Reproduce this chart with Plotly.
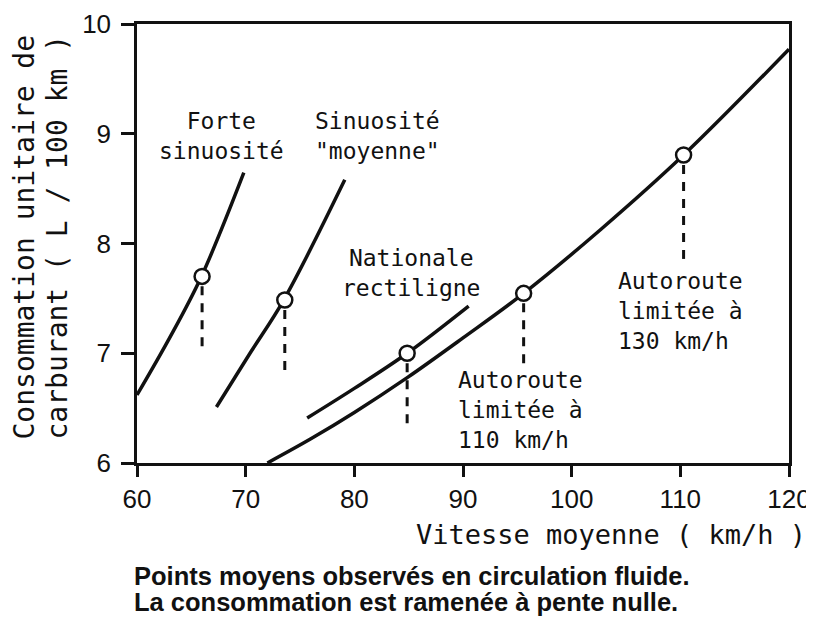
import plotly.graph_objects as go

# ---- data ----
forte_x = [60.0, 63.0, 65.93, 69.83]
forte_y = [6.62, 7.14, 7.70, 8.645]

moyenne_x = [67.31, 70.4, 73.5, 79.12]
moyenne_y = [6.51, 7.00, 7.485, 8.58]

nationale_x = [75.66, 80.0, 84.86, 90.52]
nationale_y = [6.41, 6.68, 7.00, 7.43]

autoroute_x = [72.0, 76.0, 80.0, 84.9, 90.0, 95.58, 102.7, 110.3, 120.0]
autoroute_y = [6.0, 6.22, 6.46, 6.78, 7.14, 7.546, 8.13, 8.806, 9.77]

# observed mean points and the bottom end of their dashed drop lines
point_x = [65.99, 73.6, 84.86, 95.58, 110.3]
point_y = [7.70, 7.485, 7.00, 7.546, 8.806]
drop_end_y = [7.05, 6.82, 6.30, 6.91, 7.83]

x_ticks = [60, 70, 80, 90, 100, 110, 120]
y_ticks = [6, 7, 8, 9, 10]

x_title = "Vitesse moyenne ( km/h )"
y_title_1 = "Consommation unitaire de"
y_title_2 = "carburant ( L / 100 km )"
footer_1 = "Points moyens observés en circulation fluide."
footer_2 = "La consommation est ramenée à pente nulle."

labels = ["Forte<br>sinuosité", "Sinuosité<br>\"moyenne\"", "Nationale<br>rectiligne",
          "Autoroute<br>limitée à<br>110 km/h", "Autoroute<br>limitée à<br>130 km/h"]

# ---- layout geometry (page has an 8px body margin) ----
OFF = 8
W, H = 806, 611
L, R, T, B = 129, 25, 16, 156
PW, PH = W - L - R, H - T - B


def px(xp):  # page pixel -> paper x
    return (xp - OFF - L) / PW


def py(yp):  # page pixel -> paper y
    return (H - B - (yp - OFF)) / PH


MONO = "DejaVu Sans Mono"
SANS = "Liberation Sans"
BLACK = "#111111"

fig = go.Figure()

curve_style = dict(mode="lines", line=dict(color=BLACK, width=3.5, shape="spline", smoothing=1.0),
                   hoverinfo="skip", showlegend=False)
for xs, ys in [(forte_x, forte_y), (moyenne_x, moyenne_y), (nationale_x, nationale_y),
               (autoroute_x, autoroute_y)]:
    fig.add_trace(go.Scatter(x=xs, y=ys, **curve_style))

for x0, y0, y1 in zip(point_x, point_y, drop_end_y):
    fig.add_trace(go.Scatter(x=[x0, x0], y=[y0 - 0.09, y1], mode="lines",
                             line=dict(color=BLACK, width=3, dash="9px,8px"),
                             hoverinfo="skip", showlegend=False))

fig.add_trace(go.Scatter(x=point_x, y=point_y, mode="markers",
                         marker=dict(size=15, color="white", line=dict(color=BLACK, width=2.5)),
                         hoverinfo="skip", showlegend=False))

ann = []
lab_pos = [(67.8, 8.98, "center"), (82.1, 8.98, "center"), (85.2, 7.73, "center"),
           (89.4, 6.48, "left"), (104.1, 7.385, "left")]
for text, (ax, ay, anc) in zip(labels, lab_pos):
    ann.append(dict(x=ax, y=ay, xref="x", yref="y", text=text, showarrow=False,
                    xanchor=anc, yanchor="middle", align=anc,
                    font=dict(family=MONO, size=23, color=BLACK)))

ann.append(dict(x=px(611), y=py(534), xref="paper", yref="paper", text=x_title, showarrow=False,
                xanchor="center", yanchor="middle", font=dict(family=MONO, size=27, color=BLACK)))
ann.append(dict(x=px(24), y=py(442), xref="paper", yref="paper", text=y_title_1, showarrow=False,
                textangle=-90, xanchor="center", yanchor="bottom",
                font=dict(family=MONO, size=28, color=BLACK)))
ann.append(dict(x=px(57), y=py(442), xref="paper", yref="paper", text=y_title_2, showarrow=False,
                textangle=-90, xanchor="center", yanchor="bottom",
                font=dict(family=MONO, size=28, color=BLACK)))
ann.append(dict(x=px(132), y=py(576), xref="paper", yref="paper", text=footer_1, showarrow=False,
                xanchor="left", yanchor="middle", font=dict(family=SANS, size=25.5, color=BLACK, weight="bold")))
ann.append(dict(x=px(132), y=py(602), xref="paper", yref="paper", text=footer_2, showarrow=False,
                xanchor="left", yanchor="middle", font=dict(family=SANS, size=25.5, color=BLACK, weight="bold")))

axis_common = dict(showgrid=False, zeroline=False, showline=True, linecolor=BLACK, linewidth=2.5,
                   mirror=True, ticks="outside", tickwidth=2.5, tickcolor=BLACK,
                   tickfont=dict(family=SANS, size=26, color=BLACK))

fig.update_layout(
    width=W, height=H, margin=dict(l=L, r=R, t=T, b=B, autoexpand=False),
    paper_bgcolor="white", plot_bgcolor="white", showlegend=False,
    xaxis=dict(range=[60, 120], tickvals=x_ticks, ticktext=[str(v) for v in x_ticks],
               ticklen=11, **axis_common),
    yaxis=dict(range=[6, 10], tickvals=y_ticks, ticktext=[str(v) for v in y_ticks],
               ticklen=13, ticklabelstandoff=5, **axis_common),
    annotations=ann,
)

fig.write_html("out.html")
